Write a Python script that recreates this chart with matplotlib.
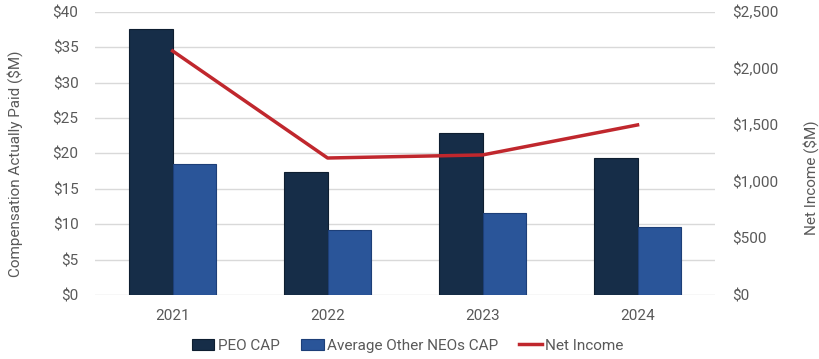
import numpy as np
import matplotlib
matplotlib.use('Agg')
from matplotlib import pyplot as plt
from matplotlib.ticker import FuncFormatter

years = ['2021', '2022', '2023', '2024']
peo_cap = [37.6, 17.4, 22.9, 19.4]
neo_cap = [18.5, 9.2, 11.6, 9.6]
net_income = [2155, 1210, 1237, 1502]

plt.rcParams['font.family'] = ['Roboto', 'DejaVu Sans']
grey = '#595959'

fig = plt.figure(figsize=(8.2, 3.59), dpi=100)
ax = fig.add_axes([0.116, 0.178, 0.756, 0.789])
ax2 = ax.twinx()

x = np.arange(len(years))
w = 0.28
ax.bar(x - w / 2, peo_cap, width=w, color='#162d48', edgecolor='#0e1e30', linewidth=0.8,
       label='PEO CAP', zorder=3)
ax.bar(x + w / 2, neo_cap, width=w, color='#2a5599', edgecolor='#1d3f78', linewidth=0.8,
       label='Average Other NEOs CAP', zorder=3)
ax2.plot(x, net_income, color='#c0272d', linewidth=2.5, label='Net Income', zorder=4)

ax.set_xlim(-0.5, 3.5)
ax.set_ylim(0, 40)
ax.set_yticks(range(0, 41, 5))
ax.yaxis.set_major_formatter(FuncFormatter(lambda v, p: f'${v:.0f}'))
ax2.set_ylim(0, 2500)
ax2.set_yticks(range(0, 2501, 500))
ax2.yaxis.set_major_formatter(FuncFormatter(lambda v, p: f'${v:,.0f}'))

ax.set_xticks(x, years)
ax.grid(axis='y', color='#d9d9d9', linewidth=1, zorder=0)
ax.set_axisbelow(True)

for a in (ax, ax2):
    for s in a.spines.values():
        s.set_visible(False)
    a.tick_params(length=0, colors=grey, labelsize=11)
ax.tick_params(axis='y', pad=12)
ax.tick_params(axis='x', pad=10)
ax2.tick_params(axis='y', pad=12)

ax.set_ylabel('Compensation Actually Paid ($M)', color=grey, fontsize=11, labelpad=21, y=0.463)
ax2.set_ylabel('Net Income ($M)', color=grey, fontsize=11, labelpad=18, y=0.413)

h1, l1 = ax.get_legend_handles_labels()
h2, l2 = ax2.get_legend_handles_labels()
fig.legend(h1 + h2, l1 + l2, loc='center', bbox_to_anchor=(0.497, 0.037), ncol=3,
           frameon=False, fontsize=11, labelcolor=grey, handlelength=1.5,
           handletextpad=0.2, columnspacing=1.4)

plt.savefig('out.png', dpi=100)
